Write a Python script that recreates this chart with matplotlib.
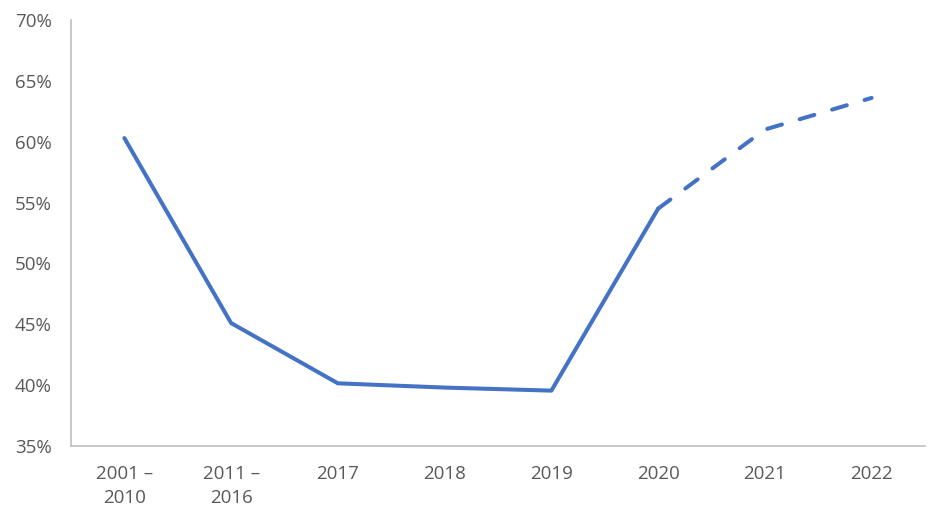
import matplotlib
matplotlib.use("Agg")
import matplotlib.pyplot as plt
from matplotlib.ticker import FuncFormatter

categories = ["2001 –\n2010", "2011 –\n2016", "2017", "2018", "2019", "2020", "2021", "2022"]
values = [60.3, 45.1, 40.15, 39.8, 39.55, 54.5, 61.0, 63.6]
solid_end = 5  # index of 2020, last solid point

plt.rcParams['font.family'] = ['Open Sans', 'DejaVu Sans']

fig = plt.figure(figsize=(9.49, 5.23), dpi=100)
ax = fig.add_axes([71/949, 1-446/523, (925-71)/949, (446-20)/523])

x = list(range(len(categories)))
color = "#4472C4"
ax.plot(x[:solid_end+1], values[:solid_end+1], color=color, lw=2.9,
        solid_capstyle='round', solid_joinstyle='round')
ax.plot(x[solid_end:], values[solid_end:], color=color, lw=2.9,
        dashes=(3.8, 4.6), dash_capstyle='round', dash_joinstyle='round')

ax.set_xlim(-0.5, len(categories)-0.5)
ax.set_ylim(35, 70)
ax.set_yticks(range(35, 71, 5))
ax.yaxis.set_major_formatter(FuncFormatter(lambda v, p: f"{int(v)}%"))
ax.set_xticks(x)
ax.set_xticklabels(categories, linespacing=1.4)

for s in ["top", "right"]:
    ax.spines[s].set_visible(False)
for s in ["left", "bottom"]:
    ax.spines[s].set_color("#BFBFBF")
    ax.spines[s].set_linewidth(1.2)
ax.tick_params(length=0, labelsize=13.5, labelcolor="#595959")
ax.tick_params(axis='y', pad=14)
ax.tick_params(axis='x', pad=14)

fig.savefig("out.png", dpi=100)
